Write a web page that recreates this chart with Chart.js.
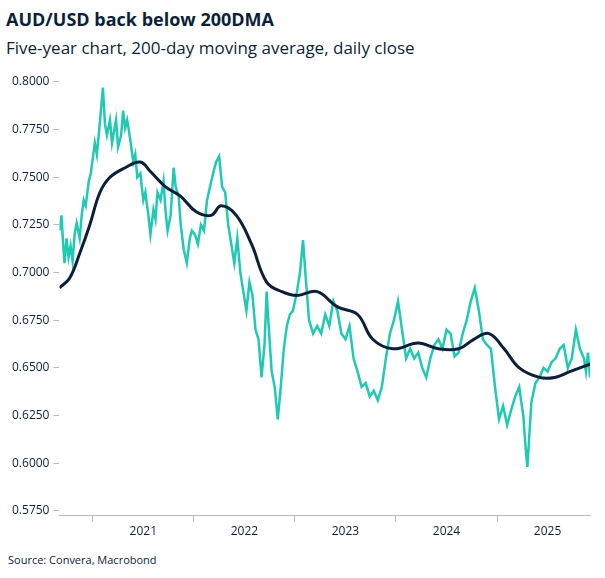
<!DOCTYPE html>
<html>
<head>
<meta charset="utf-8">
<script src="https://cdn.jsdelivr.net/npm/chart.js@4.4.1/dist/chart.umd.min.js"></script>
<style>
  body { margin: 0; background: #fff; font-family: "Open Sans", "Noto Sans", sans-serif; }
  #wrap { position: relative; width: 605px; height: 578px; }
  h1 { position: absolute; left: 6px; top: 7px; margin: 0; font-size: 18px; font-weight: 700; color: #0b1f3a; }
  h2 { position: absolute; left: 6px; top: 36px; margin: 0; font-size: 17px; font-weight: 400; color: #0b1f3a; }
  #src { position: absolute; left: 8px; top: 552px; font-size: 11px; color: #0b1f3a; }
  #c { position: absolute; left: 0; top: 66px; }
</style>
</head>
<body>
<div id="wrap">
  <h1>AUD/USD back below 200DMA</h1>
  <h2>Five-year chart, 200-day moving average, daily close</h2>
  <canvas id="c" width="600" height="476"></canvas>
  <div id="src">Source: Convera, Macrobond</div>
</div>
<script>
// decimal years and values
const audYears = [2020.67,2020.69,2020.71,2020.72,2020.74,2020.76,2020.78,2020.80,2020.82,2020.84,2020.87,2020.89,2020.91,2020.93,2020.96,2020.98,
  2021.00,2021.02,2021.04,2021.06,2021.08,2021.10,2021.12,2021.14,2021.17,2021.19,2021.21,2021.23,2021.25,2021.28,2021.30,2021.32,2021.34,2021.37,2021.40,2021.42,2021.44,2021.47,2021.50,2021.52,2021.55,2021.57,2021.60,2021.62,2021.64,2021.67,2021.70,2021.72,2021.74,2021.77,2021.80,2021.82,2021.85,2021.87,2021.90,2021.93,2021.96,2021.98,
  2022.01,2022.04,2022.07,2022.10,2022.13,2022.16,2022.19,2022.22,2022.25,2022.28,2022.31,2022.34,2022.37,2022.40,2022.43,2022.46,2022.49,2022.52,2022.55,2022.58,2022.61,2022.64,2022.67,2022.70,2022.72,2022.74,2022.77,2022.80,2022.83,2022.86,2022.89,2022.92,2022.95,2022.98,
  2023.02,2023.05,2023.08,2023.11,2023.14,2023.18,2023.22,2023.26,2023.30,2023.34,2023.38,2023.42,2023.46,2023.50,2023.54,2023.58,2023.62,2023.66,2023.70,2023.74,2023.78,2023.82,2023.86,2023.90,2023.94,2023.98,
  2024.02,2024.06,2024.10,2024.14,2024.18,2024.22,2024.26,2024.30,2024.34,2024.38,2024.42,2024.46,2024.50,2024.54,2024.58,2024.62,2024.66,2024.70,2024.74,2024.78,2024.82,2024.86,2024.90,2024.94,2024.98,
  2025.02,2025.06,2025.10,2025.14,2025.18,2025.22,2025.24,2025.26,2025.28,2025.30,2025.34,2025.38,2025.42,2025.46,2025.50,2025.54,2025.58,2025.62,2025.66,2025.70,2025.74,2025.78,2025.82,2025.86,2025.88,2025.90,2025.92];
const audValues = [0.722,0.730,0.712,0.705,0.718,0.708,0.714,0.706,0.720,0.726,0.718,0.730,0.738,0.735,0.748,0.752,
  0.760,0.768,0.762,0.773,0.785,0.797,0.778,0.772,0.780,0.768,0.774,0.780,0.766,0.772,0.785,0.776,0.780,0.770,0.758,0.762,0.750,0.752,0.738,0.742,0.730,0.720,0.733,0.728,0.742,0.738,0.748,0.732,0.722,0.730,0.755,0.745,0.740,0.725,0.712,0.705,0.718,0.722,
  0.720,0.715,0.725,0.722,0.738,0.745,0.752,0.758,0.761,0.745,0.742,0.725,0.715,0.705,0.718,0.700,0.690,0.680,0.695,0.688,0.670,0.665,0.645,0.663,0.690,0.672,0.648,0.640,0.623,0.640,0.660,0.672,0.678,0.680,
  0.690,0.700,0.717,0.695,0.675,0.668,0.672,0.668,0.678,0.672,0.685,0.680,0.668,0.665,0.672,0.655,0.648,0.640,0.642,0.635,0.638,0.633,0.640,0.655,0.668,0.675,
  0.685,0.670,0.655,0.660,0.655,0.658,0.650,0.645,0.655,0.662,0.665,0.660,0.670,0.668,0.656,0.658,0.668,0.675,0.685,0.692,0.680,0.665,0.662,0.660,0.640,
  0.623,0.630,0.620,0.628,0.635,0.640,0.632,0.625,0.610,0.598,0.632,0.642,0.645,0.650,0.648,0.653,0.655,0.660,0.662,0.650,0.655,0.670,0.660,0.655,0.648,0.658,0.645];
const dmaYears = [2020.67,2020.77,2020.87,2020.97,2021.07,2021.17,2021.32,2021.47,2021.57,2021.72,2021.87,2022.02,2022.17,2022.27,2022.42,2022.57,2022.72,2022.87,2023.02,2023.22,2023.42,2023.62,2023.77,2023.97,2024.22,2024.42,2024.62,2024.77,2024.92,2025.07,2025.22,2025.42,2025.57,2025.72,2025.92];
const dmaValues = [0.692,0.697,0.710,0.725,0.742,0.750,0.755,0.758,0.753,0.745,0.740,0.732,0.730,0.735,0.730,0.715,0.695,0.690,0.688,0.690,0.682,0.678,0.665,0.660,0.663,0.660,0.660,0.665,0.668,0.660,0.650,0.645,0.645,0.648,0.652];
const yearLabels = [2021, 2022, 2023, 2024, 2025];
const yTicks = [0.575, 0.600, 0.625, 0.650, 0.675, 0.700, 0.725, 0.750, 0.775, 0.800];

const toPts = (xs, ys) => xs.map((x, i) => ({ x: x, y: ys[i] }));

new Chart(document.getElementById('c'), {
  type: 'line',
  data: {
    datasets: [
      { data: toPts(dmaYears, dmaValues), borderColor: '#0b1f3a', borderWidth: 3, pointRadius: 0, tension: 0.4 },
      { data: toPts(audYears, audValues), borderColor: '#20c9b1', borderWidth: 2.5, pointRadius: 0, tension: 0 }
    ]
  },
  options: {
    responsive: false, animation: false,
    layout: { padding: { right: 10, top: 8, left: 8 } },
    plugins: { legend: { display: false }, tooltip: { enabled: false } },
    scales: {
      x: {
        type: 'linear', min: 2020.67, max: 2025.92,
        afterBuildTicks: s => {
          const t = [];
          yearLabels.forEach(y => { t.push({ value: y }); t.push({ value: y + 0.5 }); });
          s.ticks = t;
        },
        ticks: {
          autoSkip: false, maxRotation: 0, color: '#0b1f3a', font: { family: 'Open Sans', size: 12 },
          callback: v => (Math.abs(v % 1 - 0.5) < 0.01 ? String(Math.floor(v)) : '')
        },
        grid: {
          drawOnChartArea: false, tickLength: 6,
          tickColor: c => (c.tick && Math.abs(c.tick.value % 1) < 0.01 ? '#bbbbbb' : 'rgba(0,0,0,0)')
        },
        border: { color: '#bbbbbb' }
      },
      y: {
        min: 0.5725, max: 0.8025,
        afterBuildTicks: s => { s.ticks = yTicks.map(v => ({ value: v })); },
        ticks: { color: '#0b1f3a', font: { family: 'Open Sans', size: 12 }, padding: 4, callback: v => v.toFixed(4) },
        grid: { display: true, drawOnChartArea: false, tickLength: 6, tickColor: '#bbbbbb' },
        border: { display: false }
      }
    }
  }
});
</script>
</body>
</html>
